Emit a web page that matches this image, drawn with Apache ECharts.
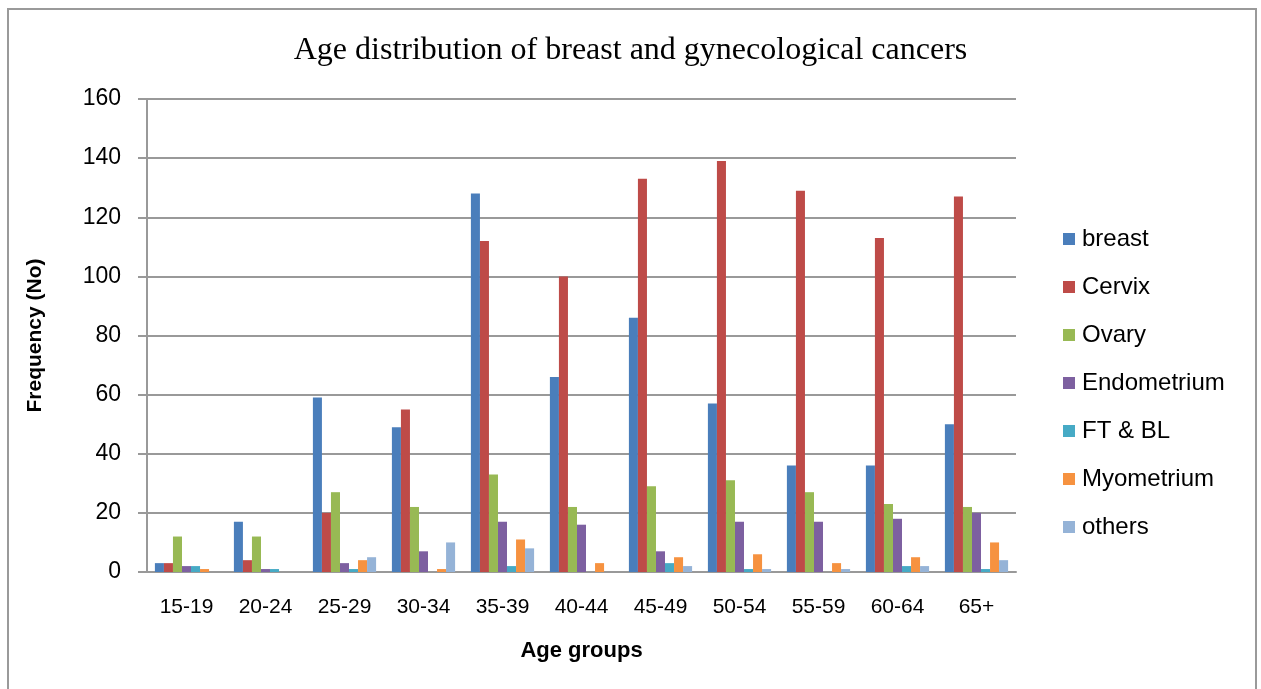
<!DOCTYPE html>
<html>
<head>
<meta charset="utf-8">
<script src="https://cdn.jsdelivr.net/npm/echarts@6/dist/echarts.min.js"></script>
<style>
    html, body { margin: 0; padding: 0; background: #fff; }
    #chart { width: 1261px; height: 689px; }
</style>
</head>
<body>
<div id="chart"></div>
<script>
var ageGroups = ['15-19', '20-24', '25-29', '30-34', '35-39', '40-44', '45-49', '50-54', '55-59', '60-64', '65+'];
var breast = [3, 17, 59, 49, 128, 66, 86, 57, 36, 36, 50];
var cervix = [3, 4, 20, 55, 112, 100, 133, 139, 129, 113, 127];
var ovary = [12, 12, 27, 22, 33, 22, 29, 31, 27, 23, 22];
var endometrium = [2, 1, 3, 7, 17, 16, 7, 17, 17, 18, 20];
var ftBl = [2, 1, 1, 0, 2, 0, 3, 1, 0, 2, 1];
var myometrium = [1, 0, 4, 1, 11, 3, 5, 6, 3, 5, 10];
var others = [0, 0, 5, 10, 8, 0, 2, 1, 1, 2, 4];

var seriesNames = ['breast', 'Cervix', 'Ovary', 'Endometrium', 'FT & BL', 'Myometrium', 'others'];
var seriesData = [breast, cervix, ovary, endometrium, ftBl, myometrium, others];

var chart = echarts.init(document.getElementById('chart'));

var series = [];
for (var i = 0; i < seriesNames.length; i++) {
    series.push({
        name: seriesNames[i],
        type: 'bar',
        barGap: 0,
        barCategoryGap: '20%',
        data: seriesData[i]
    });
}

var option = {
    animation: false,
    color: ['#4A7EBB', '#BE4B48', '#98B954', '#7D60A0', '#46AAC5', '#F69240', '#95B3D7'],
    graphic: [{
        type: 'rect',
        shape: { x: 8, y: 9, width: 1248, height: 700 },
        style: { fill: 'none', stroke: '#9a9a9a', lineWidth: 2 }
    }],
    title: {
        text: 'Age distribution of breast and gynecological cancers',
        left: 'center',
        top: 30,
        textStyle: {
            fontFamily: 'Liberation Serif',
            fontSize: 32,
            fontWeight: 'normal',
            color: '#000'
        }
    },
    legend: {
        orient: 'vertical',
        left: 1058,
        top: 222,
        itemGap: 24,
        itemWidth: 12,
        itemHeight: 12,
        icon: 'rect',
        textStyle: { fontFamily: 'Liberation Sans', fontSize: 24, lineHeight: 24, color: '#000', padding: [0, 0, 0, 2] },
        data: seriesNames
    },
    grid: {
        left: 147,
        right: 245,
        top: 99,
        bottom: 117,
        containLabel: false
    },
    xAxis: {
        type: 'category',
        data: ageGroups,
        name: 'Age groups',
        nameLocation: 'middle',
        nameGap: 68,
        nameTextStyle: { fontFamily: 'Liberation Sans', fontSize: 22, fontWeight: 'bold', color: '#000' },
        axisLine: { lineStyle: { color: '#999', width: 2 } },
        axisTick: { show: false },
        axisLabel: { fontFamily: 'Liberation Sans', fontSize: 21, color: '#000', margin: 25 }
    },
    yAxis: {
        type: 'value',
        min: 0,
        max: 160,
        interval: 20,
        name: 'Frequency (No)',
        nameLocation: 'middle',
        nameGap: 101,
        nameTextStyle: { fontFamily: 'Liberation Sans', fontSize: 21, fontWeight: 'bold', color: '#000' },
        axisLine: { show: true, lineStyle: { color: '#999', width: 2 } },
        axisTick: { show: true, length: 9, lineStyle: { color: '#999', width: 2 } },
        axisLabel: { fontFamily: 'Liberation Sans', fontSize: 23, color: '#000', margin: 26 },
        splitLine: { lineStyle: { color: '#999', width: 2 } }
    },
    series: series
};

chart.setOption(option);
</script>
</body>
</html>
